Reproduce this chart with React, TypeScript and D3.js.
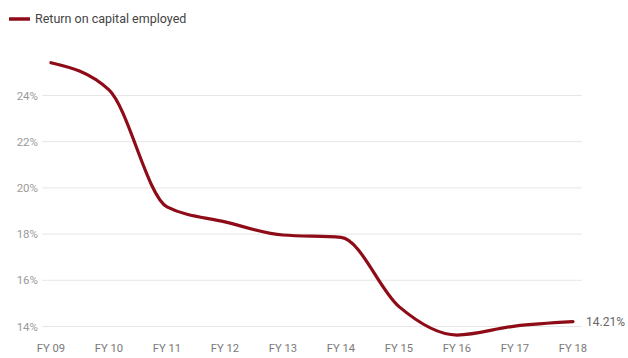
import React from "react";
import * as d3 from "d3";

const categories = ["FY 09", "FY 10", "FY 11", "FY 12", "FY 13", "FY 14", "FY 15", "FY 16", "FY 17", "FY 18"];
const roce = [25.42, 24.24, 19.18, 18.53, 17.96, 17.86, 14.86, 13.63, 14.02, 14.21];
const yTicks = [14, 16, 18, 20, 22, 24];
const seriesName = "Return on capital employed";
const lastLabel = "14.21%";

const W = 628;
const H = 358;

export default function App() {
  const x = d3.scalePoint<string>().domain(categories).range([51, 573]);
  const y = d3.scaleLinear().domain([14, 24]).range([326.5, 95.5]);
  const line = d3
    .line<number>()
    .x((_, i) => x(categories[i]) as number)
    .y((d) => y(d))
    .curve(d3.curveMonotoneX);
  const font = "Roboto, 'Noto Sans', sans-serif";
  const lastX = x(categories[categories.length - 1]) as number;
  const lastY = y(roce[roce.length - 1]);
  return (
    <svg
      width={W}
      height={H}
      style={{ position: "absolute", left: 0, top: 0, background: "#fff" }}
      fontFamily={font}
    >
      <rect width={W} height={H} fill="#fff" />
      {yTicks.map((t) => (
        <g key={t}>
          <line x1={42} x2={582} y1={y(t)} y2={y(t)} stroke="#e6e6e6" strokeWidth={1} />
          <text x={38} y={y(t)} dy="0.35em" textAnchor="end" fontSize={11.5} fill="#9a9a9a">
            {t}%
          </text>
        </g>
      ))}
      {categories.map((c) => (
        <text key={c} x={x(c) as number} y={352} textAnchor="middle" fontSize={11.2} fill="#7a7a7a">
          {c}
        </text>
      ))}
      <path d={line(roce) || ""} fill="none" stroke="#8e0c17" strokeWidth={3.2} strokeLinecap="round" />
      <text x={lastX + 13} y={lastY} dy="0.35em" fontSize={12} fill="#666">
        {lastLabel}
      </text>
      <line x1={9} x2={30} y1={19} y2={19} stroke="#8e0c17" strokeWidth={3.5} />
      <text x={35} y={19} dy="0.35em" fontSize={12.5} fill="#444">
        {seriesName}
      </text>
    </svg>
  );
}
